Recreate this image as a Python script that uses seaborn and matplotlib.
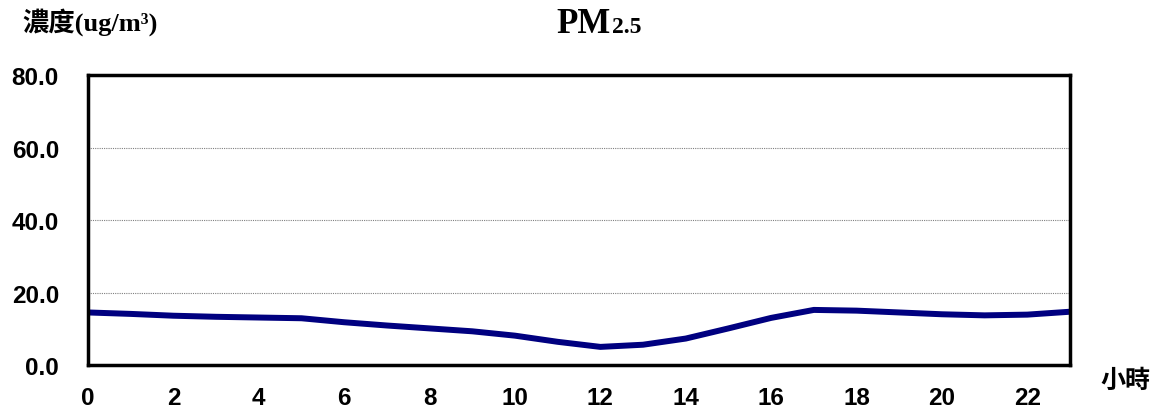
import seaborn as sns
import matplotlib.pyplot as plt
import pandas as pd

# hourly PM2.5 concentration (ug/m3)
hours = list(range(24))
pm25 = [14.5, 14.1, 13.6, 13.3, 13.1, 12.9, 11.8, 10.9, 10.1, 9.3, 8.1, 6.4,
        5.0, 5.6, 7.3, 10.1, 13.0, 15.2, 15.0, 14.5, 14.0, 13.7, 13.9, 14.7]
y_ticks = [0, 20, 40, 60, 80]
x_labels = [0, 2, 4, 6, 8, 10, 12, 14, 16, 18, 20, 22]

df = pd.DataFrame({'hour': hours, 'pm25': pm25})

sns.set_style('white')
plt.rcParams['font.family'] = ['Liberation Sans', 'DejaVu Sans']
plt.rcParams['text.color'] = 'black'
plt.rcParams['xtick.labelcolor'] = 'black'
plt.rcParams['ytick.labelcolor'] = 'black'

fig = plt.figure(figsize=(11.57, 4.14), dpi=100)
ax = fig.add_axes([0.0761, 0.1159, 0.8487, 0.7005])

sns.lineplot(data=df, x='hour', y='pm25', ax=ax, color='#000080', linewidth=4.3)

ax.set_xlim(0, 23)
ax.set_ylim(0, 80)
ax.set_yticks(y_ticks)
ax.set_yticklabels([f'{v:.1f}' for v in y_ticks], fontsize=17.5, fontweight='bold')
ax.set_xticks(hours, minor=True)
ax.set_xticks(x_labels)
ax.set_xticklabels([str(v) for v in x_labels], fontsize=17.5, fontweight='bold')
ax.tick_params(axis='x', which='both', direction='in', length=5, width=2,
               color='black', pad=15)
ax.tick_params(axis='y', length=0, pad=21)
ax.set_xlabel('')
ax.set_ylabel('')

for v in y_ticks[1:-1]:
    ax.axhline(v, color='#808080', linestyle=(0, (1, 1)), linewidth=0.8, zorder=0)

for s in ax.spines.values():
    s.set_color('black')
    s.set_linewidth(2.5)

fig.text(0.019, 0.947, '濃度(ug/m³)', fontsize=19, fontweight='bold',
         family=['Liberation Serif', 'Noto Sans CJK TC'], va='center', ha='left')
fig.text(0.951, 0.08, '小時', fontsize=18, fontweight='bold',
         family=['Noto Sans CJK TC', 'DejaVu Sans'], va='center', ha='left')
fig.text(0.528, 0.92, 'PM', fontsize=25, fontweight='bold',
         family=['Liberation Serif'], va='baseline', ha='right')
fig.text(0.529, 0.92, '2.5', fontsize=17, fontweight='bold',
         family=['Liberation Serif'], va='baseline', ha='left')

plt.savefig('out.png', dpi=100)
